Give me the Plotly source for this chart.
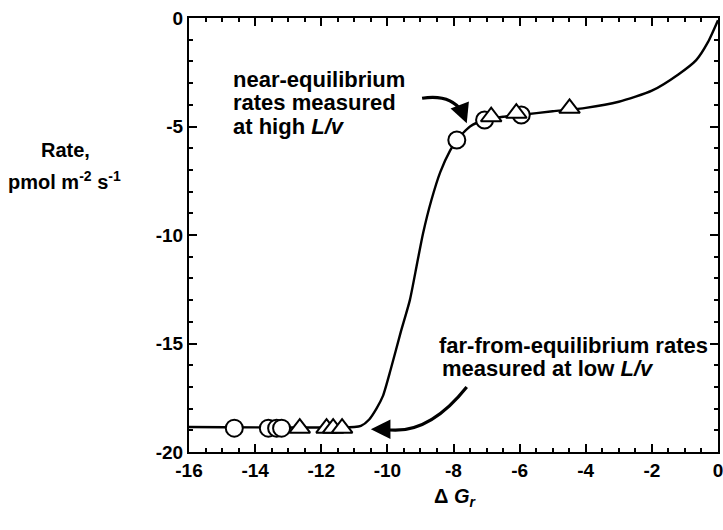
import plotly.graph_objects as go

# Data
circle_x = [-14.63, -13.6, -13.35, -13.2, -7.9, -7.06, -5.95]
circle_y = [-18.9, -18.9, -18.9, -18.9, -5.62, -4.70, -4.47]
tri_x = [-12.65, -11.84, -11.64, -11.37, -6.86, -6.1, -4.49]
tri_y = [-18.9, -18.9, -18.9, -18.9, -4.55, -4.39, -4.16]

curve_x = [-16, -11.0, -10.8, -10.55, -10.33, -10.13, -9.9, -9.6, -9.32, -9.1,
           -8.92, -8.67, -8.4, -8.1, -7.9, -7.5, -7.06, -6.5, -6.0, -5.0,
           -4.0, -3.0, -2.0, -1.2, -0.66, -0.3, 0.0]
curve_y = [-18.85, -18.85, -18.8, -18.5, -18.0, -17.4, -16.2, -14.5, -13.0, -11.3,
           -9.92, -8.4, -7.1, -6.1, -5.62, -5.0, -4.7, -4.55, -4.47, -4.3,
           -4.14, -3.86, -3.35, -2.6, -1.94, -1.1, -0.1]

x_ticks = [-16, -14, -12, -10, -8, -6, -4, -2, 0]
y_ticks = [0, -5, -10, -15, -20]

FONT = "Liberation Sans, Arial, sans-serif"
W, H = 723, 530
L, R, T, B = 189, 5, 18, 78
PW, PH = W - L - R, H - T - B


def px(xp):
    return (xp - L) / PW


def py(yp):
    return (H - B - yp) / PH


fig = go.Figure()
fig.add_trace(go.Scatter(x=curve_x, y=curve_y, mode="lines",
                         line=dict(color="black", width=2.4, shape="spline", smoothing=0.6),
                         hoverinfo="skip", showlegend=False))
fig.add_trace(go.Scatter(x=circle_x, y=circle_y, mode="markers",
                         marker=dict(symbol="circle", size=17, color="white",
                                     line=dict(color="black", width=2)),
                         showlegend=False))
fig.add_trace(go.Scatter(x=tri_x, y=tri_y, mode="markers",
                         marker=dict(symbol="triangle-up", size=18, color="white",
                                     line=dict(color="black", width=2)),
                         showlegend=False))

axis_common = dict(showgrid=False, zeroline=False, showline=True, linecolor="black",
                   linewidth=2, mirror="allticks", ticks="inside", ticklen=8, tickwidth=2,
                   tickcolor="black", automargin=False, ticklabeloverflow="allow",
                   tickfont=dict(family=FONT, size=19, color="black", weight="bold"))

fig.update_xaxes(range=[-16, 0], tickmode="array", tickvals=x_ticks,
                 ticktext=[str(v) for v in x_ticks],
                 minor=dict(tickmode="linear", dtick=0.5, tick0=0, ticks="inside",
                            ticklen=4, tickwidth=2, tickcolor="black", showgrid=False),
                 **axis_common)
fig.update_yaxes(range=[-20, 0], tickmode="array", tickvals=y_ticks,
                 ticktext=[str(v) for v in y_ticks],
                 minor=dict(tickmode="linear", dtick=1, tick0=0, ticks="inside",
                            ticklen=4, tickwidth=2, tickcolor="black", showgrid=False),
                 **axis_common)

# Curved arrows
fig.add_shape(type="path", xref="x", yref="y",
              path="M -8.95 -3.7 Q -8.1 -3.5 -7.75 -4.3",
              line=dict(color="black", width=3.2))
fig.add_annotation(x=-7.6, y=-4.85, ax=-7.75, ay=-4.25, xref="x", yref="y",
                   axref="x", ayref="y", text="", showarrow=True,
                   arrowhead=2, arrowsize=1.4, arrowwidth=2.8, arrowcolor="black")
fig.add_shape(type="path", xref="x", yref="y",
              path="M -7.6 -17.0 Q -8.8 -19.3 -10.1 -18.95",
              line=dict(color="black", width=3.2))
fig.add_annotation(x=-10.5, y=-18.95, ax=-10.0, ay=-18.95, xref="x", yref="y",
                   axref="x", ayref="y", text="", showarrow=True,
                   arrowhead=2, arrowsize=1.4, arrowwidth=2.8, arrowcolor="black")

TFONT = dict(family=FONT, size=20, color="black", weight="bold")
AFONT = dict(family=FONT, size=22, color="black", weight="bold")

near_lines = ["near-equilibrium", "rates measured", "at high <i>L/v</i>"]
near_y = [79, 102, 126]
for txt, yy in zip(near_lines, near_y):
    fig.add_annotation(x=px(231), y=py(yy), xref="paper", yref="paper",
                       xanchor="left", yanchor="middle", text=txt, showarrow=False,
                       font=AFONT)
far_lines = ["far-from-equilibrium rates", "measured at low <i>L/v</i>"]
far_y = [345, 368]
far_x = [437, 440]
for txt, yy, xx in zip(far_lines, far_y, far_x):
    fig.add_annotation(x=px(xx), y=py(yy), xref="paper", yref="paper",
                       xanchor="left", yanchor="middle", text=txt, showarrow=False,
                       font=AFONT)

fig.add_annotation(x=px(65), y=py(150), xref="paper", yref="paper",
                   text="Rate,", showarrow=False, xanchor="center", yanchor="middle",
                   font=TFONT)
fig.add_annotation(x=px(64), y=py(180), xref="paper", yref="paper",
                   text="pmol m<sup>-2</sup> s<sup>-1</sup>", showarrow=False,
                   xanchor="center", yanchor="middle", font=TFONT)
fig.add_annotation(x=px(455), y=py(497), xref="paper", yref="paper",
                   text="Δ <i>G</i><sub><i>r</i></sub>", showarrow=False,
                   xanchor="center", yanchor="middle", font=TFONT)

fig.update_layout(template="none", width=W, height=H,
                  margin=dict(l=L, r=R, t=T, b=B),
                  plot_bgcolor="white", paper_bgcolor="white", showlegend=False)

fig.write_html("out.html")
